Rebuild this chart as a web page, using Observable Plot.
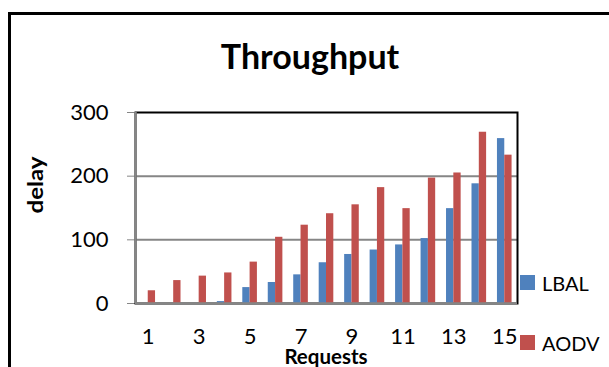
<!DOCTYPE html>
<html><head><meta charset="utf-8">
<script src="https://cdn.jsdelivr.net/npm/d3@7"></script>
<script src="https://cdn.jsdelivr.net/npm/@observablehq/plot@0.6"></script>
<style>
body{margin:0;background:#fff;}
#wrap{position:relative;width:609px;height:367px;overflow:hidden;font-family:Lato,"Open Sans",sans-serif;color:#000}
#border{position:absolute;left:8px;top:12px;width:800px;height:600px;border-left:3px solid #000;border-top:3px solid #000;}
#title{position:absolute;left:160px;width:300px;top:39px;text-align:center;font-weight:bold;font-size:34px;line-height:1}
#ylab{position:absolute;left:35px;top:185px;transform:translate(-50%,-50%) rotate(-90deg) scaleX(1.2);font-weight:bold;font-size:20px;line-height:1;white-space:nowrap}
#xlab{position:absolute;left:226px;width:200px;top:346px;text-align:center;font-weight:bold;font-size:20.5px;line-height:1}
.leg{position:absolute;left:520px;font-size:20px;line-height:1;white-space:nowrap}
.leg span.sw{position:absolute;left:0;top:0;width:15px;height:15px}
.leg span.tx{position:absolute;left:22px;top:-2px}
#chart{position:absolute;left:0;top:0}
g[aria-label="y-axis tick"] path{stroke:#868686}
</style>
</head><body>
<div id="wrap">
  <div id="chart"></div>
  <div id="border"></div>
  <div id="title">Throughput</div>
  <div id="ylab">delay</div>
  <div id="xlab">Requests</div>
  <div id="legend"></div>
</div>
<script>
const categories = [1,2,3,4,5,6,7,8,9,10,11,12,13,14,15];
const lbal = [0,0,0,3,25,33,45,64,77,84,92,102,149,188,259];
const aodv = [20,36,43,48,65,104,123,141,155,182,149,197,205,269,233];
const seriesNames = ["LBAL","AODV"];
const seriesColors = ["#4F81BD","#C0504D"];
const xTicks = [1,3,5,7,9,11,13,15];
const yTicks = [0,100,200,300];

const barW = 0.287;
const rows = [];
categories.forEach((c,i)=>{
  rows.push({c, s:"LBAL", v:lbal[i]});
  rows.push({c, s:"AODV", v:aodv[i]});
});

const plot = Plot.plot({
  width: 609, height: 367,
  marginLeft: 135, marginRight: 92, marginTop: 112, marginBottom: 64,
  style: {fontFamily: "Lato, 'Open Sans', sans-serif", fontSize: "22px", color: "#000", background: "transparent"},
  x: {domain: [0.5, 15.5], ticks: xTicks, tickSize: 0, tickPadding: 25, label: null, tickFormat: d => String(d)},
  y: {domain: [0, 300], ticks: yTicks, tickSize: 8, tickPadding: 19, label: null},
  color: {domain: seriesNames, range: seriesColors},
  marks: [
    Plot.ruleY(yTicks.filter(t => t > 0 && t < 300), {stroke: "#868686", strokeWidth: 2}),
    Plot.frame({stroke: "#000", strokeWidth: 2}),
    Plot.rectY(rows, {
      x1: d => d.s === "LBAL" ? d.c - barW : d.c,
      x2: d => d.s === "LBAL" ? d.c : d.c + barW,
      y: "v", fill: "s"
    }),
    Plot.ruleY([0], {stroke: "#868686", strokeWidth: 2.5}),
    Plot.ruleX([0.5], {stroke: "#868686", strokeWidth: 2.5})
  ]
});
document.getElementById("chart").appendChild(plot);

const legend = document.getElementById("legend");
const legTops = [275, 335];
seriesNames.forEach((name,i)=>{
  const item = document.createElement("div");
  item.className = "leg";
  item.style.top = legTops[i] + "px";
  item.innerHTML = `<span class="sw" style="background:${seriesColors[i]}"></span><span class="tx">${name}</span>`;
  legend.appendChild(item);
});
</script>
</body></html>
